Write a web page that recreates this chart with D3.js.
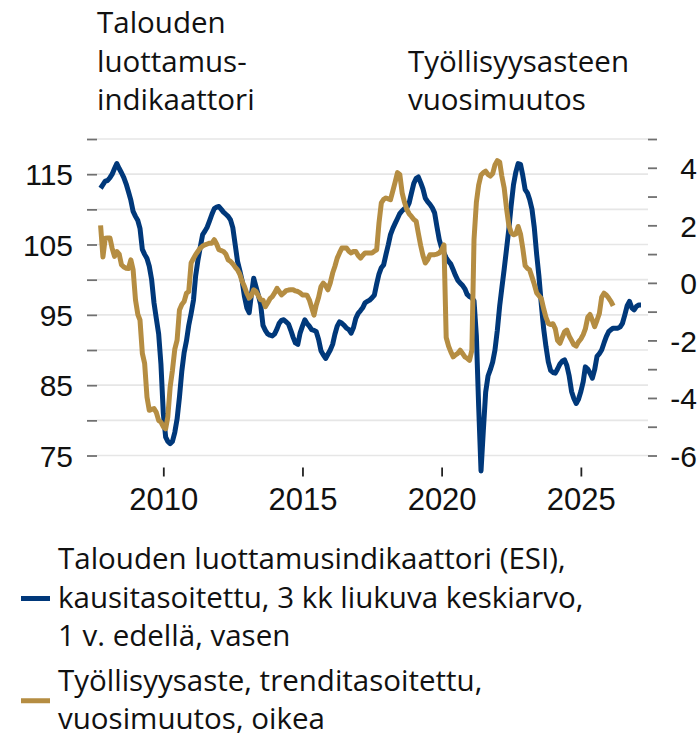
<!DOCTYPE html>
<html>
<head>
<meta charset="utf-8">
<script src="https://cdn.jsdelivr.net/npm/d3@7"></script>
<style>
  html, body { margin: 0; padding: 0; background: #fff; }
  svg { display: block; font-family: "Open Sans", "Noto Sans", sans-serif; }
</style>
</head>
<body>
<svg id="chart" width="699" height="737"></svg>
<script>
// ESI, 3 kk liukuva keskiarvo, 1 v. edellä (vasen akseli), kuukausittain alkaen 10/2007
const esiStart = new Date(2007, 9, 1);
const esiValues = [
  113.0, 113.5, 114.0,
  114.1, 114.5, 115.0, 115.8, 116.5, 115.8, 115.2, 114.5, 113.6, 112.5, 111.3, 109.7,
  109.0, 108.4, 107.3, 104.3, 103.6, 103.0, 101.9, 100.0, 96.7, 94.5, 92.3, 88.0,
  81.0, 77.6, 77.0, 76.7, 77.0, 78.3, 80.2, 83.3, 87.0, 89.6, 91.3, 93.5,
  95.2, 97.1, 100.5, 102.8, 104.6, 106.4, 106.9, 107.5, 108.4, 109.3, 110.1, 110.3,
  110.4, 110.0, 109.6, 109.3, 109.0, 108.5, 107.4, 105.0, 102.6, 101.3, 99.8, 97.6,
  96.0, 95.3, 97.8, 100.2, 99.0, 97.8, 96.5, 93.5, 92.8, 92.3, 92.1, 92.0,
  92.3, 93.0, 93.8, 94.2, 94.3, 94.0, 93.7, 92.8, 91.8, 91.0, 90.8, 92.4,
  93.4, 94.3, 93.8, 93.4, 92.9, 92.8, 92.6, 91.5, 89.9, 89.3, 88.8, 89.4,
  90.0, 90.8, 92.2, 93.4, 94.0, 93.8, 93.5, 93.1, 92.9, 92.4, 93.2, 94.5,
  95.2, 95.6, 96.0, 96.7, 96.9, 97.1, 97.4, 97.8, 99.4, 100.8, 101.7, 102.1,
  103.6, 105.0, 106.4, 107.3, 108.0, 108.7, 109.4, 109.8, 110.1, 110.2, 110.9, 112.3,
  113.7, 114.4, 114.6, 113.8, 112.9, 111.6, 111.1, 110.7, 110.2, 109.5, 107.5, 105.7,
  104.5, 103.8, 103.1, 102.6, 102.2, 101.4, 100.6, 99.9, 99.5, 99.2, 98.7, 97.9,
  97.6, 97.4, 97.0, 92.0, 82.0, 72.8, 78.5, 84.0, 86.3, 87.2, 88.3, 90.0,
  92.8, 96.3, 98.8, 101.5, 104.3, 107.2, 110.5, 113.5, 115.3, 116.5, 116.4, 114.8,
  112.8, 112.3, 111.4, 110.0, 107.4, 103.6, 100.5, 96.5, 93.0, 90.5, 88.3, 87.1,
  86.8, 86.7, 87.3, 88.0, 88.4, 88.6, 87.8, 86.3, 84.1, 83.1, 82.4, 83.0,
  84.1, 85.5, 87.6, 87.3, 86.7, 86.0, 87.2, 89.1, 89.5, 90.0, 91.0, 91.9,
  92.6, 92.9, 93.1, 93.1, 93.1, 93.3, 93.8, 95.0, 96.3, 96.9, 96.0, 95.7,
  96.2, 96.4, 96.4
];

// Työllisyysaste, trenditasoitettu, vuosimuutos (oikea akseli), kuukausittain alkaen 10/2007
const empStart = new Date(2007, 9, 1);
const empValues = [
  2.0, 0.9, 1.55,
  1.56, 1.56, 1.2, 0.92, 1.09, 1.0, 0.63, 0.55, 0.51, 0.5, 0.8, 0.45,
  -0.59, -1.1, -1.29, -2.45, -2.8, -3.97, -4.43, -4.4, -4.37, -4.5, -4.78, -4.84,
  -5.0, -5.07, -4.66, -3.62, -3.04, -2.3, -1.99, -0.94, -0.75, -0.65, -0.36, -0.3,
  0.69, 0.85, 0.98, 1.1, 1.21, 1.28, 1.32, 1.35, 1.38, 1.38, 1.5, 1.35,
  1.15, 1.12, 1.09, 1.0, 0.8, 0.75, 0.66, 0.55, 0.45, 0.3, 0.05, -0.13,
  -0.36, -0.53, -0.45, -0.24, -0.3, -0.45, -0.59, -0.6, -0.83, -0.7, -0.55, -0.48,
  -0.35, -0.19, -0.3, -0.42, -0.35, -0.27, -0.25, -0.24, -0.24, -0.28, -0.3, -0.35,
  -0.42, -0.42, -0.43, -0.59, -0.85, -1.12, -0.77, -0.5, -0.13, -0.01, -0.1, -0.24,
  0.0, 0.34, 0.57, 0.86, 1.04, 1.21, 1.21, 1.21, 1.1, 1.04, 1.09, 1.09,
  0.95, 0.86, 0.95, 1.04, 1.04, 1.04, 1.04, 1.1, 1.15, 2.08, 2.78, 2.9,
  2.95, 2.92, 2.89, 3.2, 3.5, 3.83, 3.77, 3.13, 2.8, 2.55, 2.4, 2.31,
  2.2, 2.14, 1.73, 1.3, 0.95, 0.69, 0.8, 0.98, 0.98, 0.98, 1.0, 1.04,
  1.15, 1.32, -1.9, -2.2, -2.4, -2.57, -2.5, -2.45, -2.34, -2.45, -2.57, -2.62,
  -2.69, -2.34, 1.5, 2.8, 3.4, 3.75, 3.83, 3.88, 3.77, 3.71, 3.8, 4.1,
  4.25, 4.2, 3.71, 3.3, 2.6, 2.0, 1.75, 1.67, 1.7, 1.96, 1.7, 1.2,
  0.6, 0.5, 0.45, 0.2, -0.05, -0.35, -0.45, -0.55, -0.9, -1.2, -1.41, -1.45,
  -1.42, -1.6, -2.0, -2.1, -1.9, -1.7, -1.64, -1.85, -2.0, -2.15, -2.2, -2.05,
  -1.95, -1.8, -1.6, -1.2, -1.1, -1.3, -1.52, -1.3, -1.06, -0.5, -0.36, -0.42,
  -0.53, -0.65, -0.8
];

const leftTicks = [75, 80, 85, 90, 95, 100, 105, 110, 115, 120];
const leftLabels = [75, 85, 95, 105, 115];
const rightTicks = [-6, -5, -4, -3, -2, -1, 0, 1, 2, 3, 4, 5];
const rightLabels = [-6, -4, -2, 0, 2, 4];
const yearTicks = [2010, 2015, 2020, 2025];

const titleLeft = ["Talouden", "luottamus-", "indikaattori"];
const titleRight = ["Työllisyysasteen", "vuosimuutos"];
const legendEsi = ["Talouden luottamusindikaattori (ESI),", "kausitasoitettu, 3 kk liukuva keskiarvo,", "1 v. edellä, vasen"];
const legendEmp = ["Työllisyysaste, trenditasoitettu,", "vuosimuutos, oikea"];

const BLUE = "#00387a";
const GOLD = "#b58d42";

const svg = d3.select("#chart");
const margin = {top: 139, left: 97, right: 51, bottom: 281.5};
const W = 699, H = 737;
const textSize = "29.5px";

const x = d3.scaleTime()
    .domain([new Date(2007, 7, 15), new Date(2027, 5, 1)])
    .range([margin.left, W - margin.right]);
const yL = d3.scaleLinear().domain([75, 120]).range([H - margin.bottom, margin.top]);
const yR = d3.scaleLinear().domain([-6, 5]).range([H - margin.bottom, margin.top]);

const esi = esiValues.map((v, i) => ({date: d3.timeMonth.offset(esiStart, i), value: v}));
const emp = empValues.map((v, i) => ({date: d3.timeMonth.offset(empStart, i), value: v}));

// gridlines
svg.append("g")
    .selectAll("line")
    .data(leftTicks)
    .join("line")
    .attr("x1", margin.left)
    .attr("x2", W - margin.right)
    .attr("y1", d => yL(d))
    .attr("y2", d => yL(d))
    .attr("stroke", "#e6e6e6")
    .attr("stroke-width", 1.6);

// left axis
const gL = svg.append("g")
    .attr("transform", `translate(${margin.left},0)`)
    .call(d3.axisLeft(yL).tickValues(leftTicks).tickSize(10).tickPadding(14)
        .tickFormat(d => leftLabels.includes(d) ? d : ""));
gL.select(".domain").remove();
gL.selectAll(".tick line").attr("stroke", "#707070").attr("stroke-width", 1.8);
gL.selectAll(".tick text")
    .attr("fill", "#111")
    .style("font-size", "30px")
    .attr("dy", "0.36em");

// right axis
const gR = svg.append("g")
    .attr("transform", `translate(${W - margin.right},0)`)
    .call(d3.axisRight(yR).tickValues(rightTicks).tickSize(9)
        .tickFormat(d => rightLabels.includes(d) ? d : ""));
gR.select(".domain").remove();
gR.selectAll(".tick line").attr("stroke", "#707070").attr("stroke-width", 1.8);
gR.selectAll(".tick text")
    .attr("fill", "#111")
    .attr("text-anchor", "end")
    .attr("x", 49)
    .style("font-size", "30px")
    .attr("dy", "0.36em");

// bottom axis
const gB = svg.append("g")
    .attr("transform", `translate(0,${H - margin.bottom + 12})`)
    .call(d3.axisBottom(x).tickValues(yearTicks.map(y => new Date(y, 0, 1))).tickSize(9)
        .tickFormat(d3.timeFormat("%Y")));
gB.select(".domain").remove();
gB.selectAll(".tick line").attr("stroke", "#222").attr("stroke-width", 1.8);
gB.selectAll(".tick text")
    .attr("fill", "#111")
    .attr("y", 42)
    .attr("dy", 0)
    .style("font-size", "31px");

// lines
const lineL = d3.line().x(d => x(d.date)).y(d => yL(d.value));
const lineR = d3.line().x(d => x(d.date)).y(d => yR(d.value));

svg.append("path")
    .datum(esi)
    .attr("d", lineL)
    .attr("fill", "none")
    .attr("stroke", BLUE)
    .attr("stroke-width", 5)
    .attr("stroke-linejoin", "round");

svg.append("path")
    .datum(emp)
    .attr("d", lineR)
    .attr("fill", "none")
    .attr("stroke", GOLD)
    .attr("stroke-width", 5)
    .attr("stroke-linejoin", "round");

// titles
const lh = 38.5;
svg.append("g").selectAll("text")
    .data(titleLeft)
    .join("text")
    .attr("x", 97)
    .attr("y", (d, i) => 33 + i * lh)
    .attr("fill", "#111")
    .style("font-size", textSize)
    .text(d => d);
svg.append("g").selectAll("text")
    .data(titleRight)
    .join("text")
    .attr("x", 408)
    .attr("y", (d, i) => 33 + (i + 1) * lh)
    .attr("fill", "#111")
    .style("font-size", textSize)
    .text(d => d);

// legend
function legendBlock(lines, color, top) {
    const g = svg.append("g");
    g.selectAll("text")
        .data(lines)
        .join("text")
        .attr("x", 58)
        .attr("y", (d, i) => top + i * lh)
        .attr("fill", "#111")
        .style("font-size", textSize)
        .text(d => d);
    const mid = top + (lines.length - 1) * lh / 2 - 9;
    g.append("line")
        .attr("x1", 21).attr("x2", 50)
        .attr("y1", mid).attr("y2", mid)
        .attr("stroke", color)
        .attr("stroke-width", 5);
}
legendBlock(legendEsi, BLUE, 569);
legendBlock(legendEmp, GOLD, 690.5);
</script>
</body>
</html>
